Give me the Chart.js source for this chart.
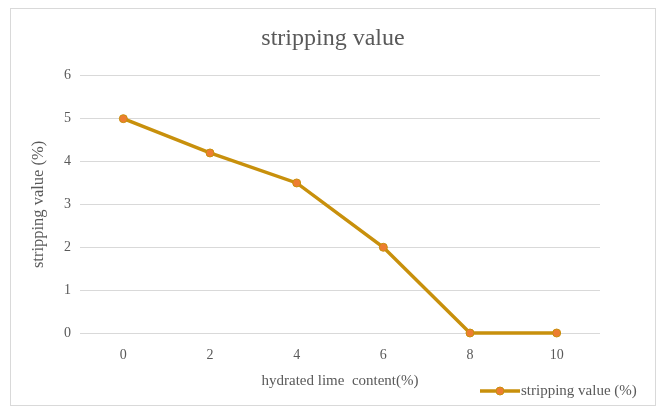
<!DOCTYPE html>
<html>
<head>
<meta charset="utf-8">
<script src="https://cdn.jsdelivr.net/npm/chart.js@4/dist/chart.umd.min.js"></script>
<style>
    html, body { margin: 0; padding: 0; background: #ffffff; }
    #box {
        position: absolute;
        left: 10px;
        top: 8px;
        width: 644px;
        height: 396px;
        border: 1px solid #d9d9d9;
        background: #ffffff;
    }
</style>
</head>
<body>
<div id="box"><canvas id="chart" width="644" height="396"></canvas></div>
<script>
// data
const limeContent = ["0", "2", "4", "6", "8", "10"];
const strippingValue = [5, 4.2, 3.5, 2, 0, 0];
const yTicks = [0, 1, 2, 3, 4, 5, 6];

const textColor = "#595959";
const gridColor = "#d9d9d9";
const lineColor = "#c8900c";
const pointColor = "#ed7d31";
const serif = "'Liberation Serif', 'DejaVu Serif', serif";

// legend drawn by hand: line with a dot, bottom right
const legendPlugin = {
    id: "bottomRightLegend",
    afterDraw(chart) {
        const { ctx } = chart;
        const ds = chart.data.datasets[0];
        const x0 = 469, x1 = 509, y = 382;
        ctx.save();
        ctx.strokeStyle = lineColor;
        ctx.lineWidth = 3.5;
        ctx.beginPath();
        ctx.moveTo(x0, y);
        ctx.lineTo(x1, y);
        ctx.stroke();
        ctx.fillStyle = pointColor;
        ctx.strokeStyle = lineColor;
        ctx.lineWidth = 1;
        ctx.beginPath();
        ctx.arc((x0 + x1) / 2, y, 4, 0, Math.PI * 2);
        ctx.fill();
        ctx.stroke();
        ctx.fillStyle = textColor;
        ctx.font = "15px " + serif;
        ctx.textBaseline = "middle";
        ctx.textAlign = "left";
        ctx.fillText(ds.label, x1 + 1, y);
        ctx.restore();
    },
};

const ctx = document.getElementById("chart");
const chart = new Chart(ctx, {
    type: "line",
    data: {
        labels: limeContent,
        datasets: [
            {
                label: "stripping value (%)",
                data: strippingValue,
                borderColor: lineColor,
                borderWidth: 3.5,
                pointRadius: 4,
                pointBackgroundColor: pointColor,
                pointBorderColor: lineColor,
                pointBorderWidth: 1,
                tension: 0,
                fill: false,
                clip: false,
            },
        ],
    },
    options: {
        responsive: false,
        animation: false,
        layout: {
            padding: { left: 0, right: 0, top: 0, bottom: 15 },
        },
        scales: {
            x: {
                offset: true,
                grid: { display: false, drawTicks: false },
                border: { display: false },
                ticks: {
                    color: textColor,
                    padding: 14,
                    font: { family: serif, size: 14 },
                },
                title: {
                    display: true,
                    text: "hydrated lime  content(%)",
                    color: textColor,
                    font: { family: serif, size: 15 },
                    padding: { top: 10, bottom: 0 },
                },
                afterFit: (scale) => {
                    scale.height = 57;
                },
            },
            y: {
                min: 0,
                max: 6,
                afterBuildTicks: (scale) => {
                    scale.ticks = yTicks.map((v) => ({ value: v }));
                },
                grid: { color: gridColor, lineWidth: 1, drawTicks: false },
                border: { display: false },
                ticks: {
                    color: textColor,
                    padding: 9,
                    font: { family: serif, size: 14 },
                },
                title: {
                    display: true,
                    text: "stripping value (%)",
                    color: textColor,
                    font: { family: serif, size: 16.5 },
                    padding: { top: 18, bottom: 0 },
                },
                afterFit: (scale) => {
                    scale.width = 69;
                },
            },
            // empty right-hand axis only to keep the plot clear of the legend
            spacer: {
                position: "right",
                display: true,
                grid: { display: false, drawTicks: false },
                border: { display: false },
                ticks: { display: false },
                afterFit: (scale) => {
                    scale.width = 55;
                },
            },
        },
        plugins: {
            legend: { display: false },
            tooltip: { enabled: false },
            title: {
                display: true,
                text: "stripping value",
                color: textColor,
                font: { family: serif, size: 24, weight: "normal" },
                padding: { top: 15, bottom: 23 },
            },
        },
    },
    plugins: [legendPlugin],
});
</script>
</body>
</html>
